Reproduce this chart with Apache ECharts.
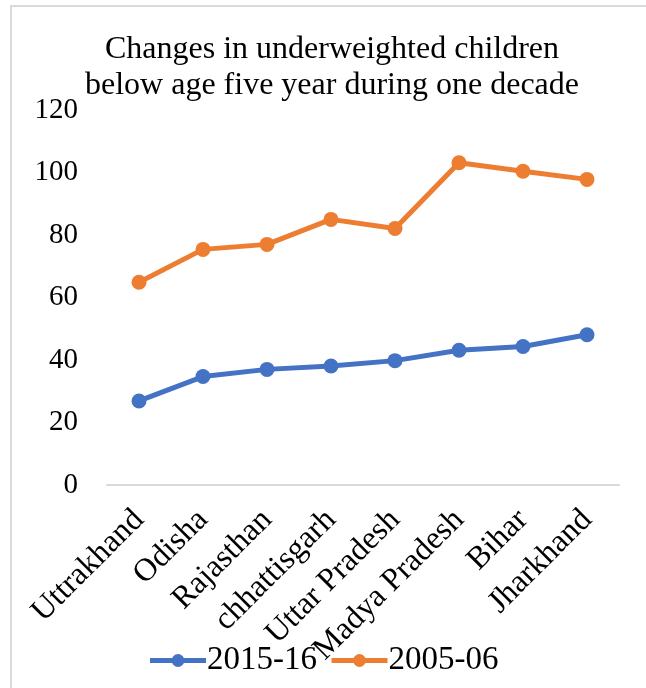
<!DOCTYPE html>
<html lang="en">
<head>
    <meta charset="UTF-8">
    <title>Underweighted children</title>
    <script src="https://cdn.jsdelivr.net/npm/echarts@6/dist/echarts.min.js"></script>
    <style>
        html, body {
            margin: 0;
            padding: 0;
            background: white;
            overflow: hidden;
        }
        #frame {
            position: absolute;
            left: 10px;
            top: 5px;
            width: 700px;
            height: 700px;
            border-left: 2px solid #d9d9d9;
            border-top: 2px solid #d9d9d9;
        }
        #chartContainer {
            position: absolute;
            left: 0;
            top: 0;
            width: 646px;
            height: 688px;
        }
    </style>
</head>
<body>
    <div id="frame"></div>
    <div id="chartContainer"></div>

    <script>
        // categories and series values
        const states = ['Uttrakhand', 'Odisha', 'Rajasthan', 'chhattisgarh', 'Uttar Pradesh', 'Madya Pradesh', 'Bihar', 'Jharkhand'];
        const values2015 = [26.9, 34.7, 37.0, 38.1, 39.8, 43.1, 44.3, 48.1];
        const values2005 = [64.9, 75.4, 77.0, 85.0, 82.1, 103.1, 100.4, 97.8];
        const yTicks = { min: 0, max: 120, interval: 20 };

        const font = 'Liberation Serif';
        const chart = echarts.init(document.getElementById('chartContainer'));

        chart.setOption({
            animation: false,
            title: {
                text: 'Changes in underweighted children\nbelow age five year during one decade',
                left: 327,
                top: 27,
                textAlign: 'center',
                textStyle: {
                    fontFamily: font,
                    fontSize: 32,
                    fontWeight: 'normal',
                    color: '#000',
                    lineHeight: 36
                }
            },
            legend: {
                bottom: 6,
                left: 'center',
                itemWidth: 56,
                itemHeight: 16,
                itemGap: 12,
                lineStyle: { width: 5 },
                textStyle: { fontFamily: font, fontSize: 33, color: '#000', padding: [0, 0, 0, -4] },
                data: ['2015-16', '2005-06']
            },
            grid: { left: 107, right: 27, top: 110, bottom: 203 },
            xAxis: {
                type: 'category',
                data: states,
                axisLine: { lineStyle: { color: '#d9d9d9', width: 2 } },
                axisTick: { show: false },
                axisLabel: {
                    rotate: 45,
                    interval: 0,
                    margin: 30,
                    fontFamily: font,
                    fontSize: 32,
                    color: '#000'
                }
            },
            yAxis: {
                type: 'value',
                min: yTicks.min,
                max: yTicks.max,
                interval: yTicks.interval,
                axisLine: { show: false },
                axisTick: { show: false },
                splitLine: { show: false },
                axisLabel: {
                    margin: 29,
                    fontFamily: font,
                    fontSize: 29,
                    color: '#000'
                }
            },
            series: [
                {
                    name: '2015-16',
                    type: 'line',
                    data: values2015,
                    symbol: 'circle',
                    symbolSize: 15,
                    lineStyle: { color: '#4472c4', width: 5 },
                    itemStyle: { color: '#4472c4' }
                },
                {
                    name: '2005-06',
                    type: 'line',
                    data: values2005,
                    symbol: 'circle',
                    symbolSize: 15,
                    lineStyle: { color: '#ed7d31', width: 5 },
                    itemStyle: { color: '#ed7d31' }
                }
            ]
        });
    </script>
</body>
</html>
